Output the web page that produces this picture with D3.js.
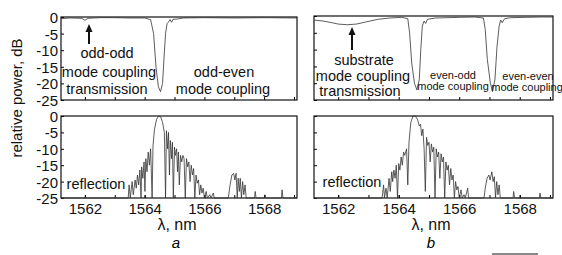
<!DOCTYPE html>
<html>
<head>
<meta charset="utf-8">
<script src="https://cdn.jsdelivr.net/npm/d3@7"></script>
<style>
  body { margin: 0; background: #fff; }
  svg { font-family: "Liberation Sans", Arial, Helvetica, sans-serif; }
  .tick text { font-size: 15px; fill: #111; }
</style>
</head>
<body>
<div id="chart"></div>
<script>
/*
 spectra: [wavelength nm, relative power dB]
 */
var xDomain = [1561.2, 1569.1];
var yDomain = [-25, 0];
var xTickLabels = [1562, 1564, 1566, 1568];
var xMinorTicks = [1562, 1563, 1564, 1565, 1566, 1567, 1568, 1569];
var yTickLabels = [0, -5, -10, -15, -20, -25];

var transmissionA = [
    [1561.2, -0.5], [1561.5, -0.3], [1561.9, -0.4], [1562.0, -1.0], [1562.1, -0.4],
    [1562.5, -0.2], [1563.0, -0.2], [1563.5, -0.3], [1564.0, -0.3], [1564.2, -0.8],
    [1564.3, -5], [1564.38, -15], [1564.46, -21], [1564.53, -22.5], [1564.6, -20],
    [1564.65, -12], [1564.7, -5], [1564.75, -2], [1564.8, -1.5], [1564.85, -0.8],
    [1564.9, -1.6], [1564.95, -0.7], [1565.1, -0.6], [1565.3, -0.3], [1566.0, -0.2],
    [1567.0, -0.3], [1568.0, -0.2], [1569.1, -0.3]
];

var transmissionB = [
    [1561.2, -1.2], [1561.5, -1.5], [1561.8, -2.0], [1562.0, -2.4], [1562.3, -2.6],
    [1562.6, -2.4], [1562.9, -1.8], [1563.3, -1.0], [1563.7, -0.6], [1564.1, -0.4],
    [1564.3, -0.8], [1564.36, -5], [1564.43, -14], [1564.52, -20], [1564.6, -22],
    [1564.68, -19], [1564.73, -10], [1564.78, -3], [1564.84, -1.5], [1564.89, -2.2],
    [1564.95, -1.0], [1565.2, -0.6], [1565.6, -0.5], [1566.0, -0.4], [1566.5, -0.3],
    [1566.8, -0.6], [1566.86, -4], [1566.93, -13], [1567.03, -20], [1567.1, -22.5],
    [1567.18, -19], [1567.25, -9], [1567.32, -3], [1567.37, -1.2], [1567.42, -2.0],
    [1567.5, -0.8], [1567.7, -0.5], [1568.2, -0.4], [1568.7, -0.3], [1569.1, -0.3]
];

var reflectionA = [
    [1561.2, -25], [1563.45, -25], [1563.48, -21], [1563.52, -25], [1563.58, -20],
    [1563.62, -24], [1563.68, -19.5], [1563.72, -22], [1563.76, -18], [1563.8, -21],
    [1563.84, -16.5], [1563.88, -25], [1563.9, -15.5], [1563.94, -19], [1563.98, -14],
    [1564.01, -23], [1564.04, -13], [1564.08, -17], [1564.12, -11], [1564.16, -15],
    [1564.2, -10], [1564.25, -25], [1564.28, -9], [1564.33, -4], [1564.4, -1],
    [1564.47, 0], [1564.54, -0.3], [1564.6, -2], [1564.66, -5], [1564.7, -25],
    [1564.73, -4.5], [1564.77, -10], [1564.8, -5], [1564.83, -18], [1564.86, -7.5],
    [1564.9, -13], [1564.93, -8], [1564.96, -25], [1565.0, -9.5], [1565.03, -12],
    [1565.07, -10], [1565.1, -17], [1565.13, -11], [1565.16, -21], [1565.2, -12],
    [1565.24, -14], [1565.28, -12], [1565.32, -13], [1565.36, -25], [1565.4, -13],
    [1565.44, -15.5], [1565.48, -14], [1565.52, -20], [1565.56, -15], [1565.6, -18],
    [1565.64, -16], [1565.68, -25], [1565.72, -18], [1565.76, -20.5], [1565.8, -19.5],
    [1565.84, -24], [1565.88, -21], [1565.92, -23.5], [1565.96, -22], [1566.0, -25],
    [1566.06, -23], [1566.1, -25], [1566.18, -24], [1566.22, -25], [1566.3, -23.5],
    [1566.33, -25], [1566.8, -25], [1566.86, -21], [1566.92, -18], [1566.98, -17.5],
    [1567.02, -19.5], [1567.06, -17.5], [1567.1, -25], [1567.13, -19], [1567.17, -23],
    [1567.2, -19], [1567.24, -25], [1567.28, -20], [1567.32, -24], [1567.36, -21],
    [1567.4, -25], [1567.68, -25], [1567.7, -23], [1567.73, -25], [1568.0, -25],
    [1568.03, -24], [1568.06, -25], [1568.58, -25], [1568.6, -22.5], [1568.63, -25],
    [1569.1, -25]
];

var reflectionB = [
    [1561.2, -25], [1563.45, -25], [1563.5, -21], [1563.53, -25], [1563.58, -22],
    [1563.62, -25], [1563.68, -19], [1563.72, -23], [1563.77, -17], [1563.8, -20],
    [1563.84, -16.5], [1563.88, -19], [1563.92, -15], [1563.96, -25], [1564.0, -14.5],
    [1564.04, -16.5], [1564.08, -12.5], [1564.12, -15], [1564.16, -11], [1564.2, -12],
    [1564.26, -10], [1564.3, -21], [1564.34, -8], [1564.4, -2], [1564.47, 0],
    [1564.55, 0], [1564.62, -1], [1564.68, -3], [1564.72, -2.5], [1564.76, -6],
    [1564.8, -4], [1564.84, -10], [1564.88, -23], [1564.92, -6.5], [1564.96, -9],
    [1565.0, -8], [1565.04, -14], [1565.08, -8.5], [1565.12, -11], [1565.16, -9.5],
    [1565.2, -25], [1565.24, -10], [1565.28, -12.5], [1565.32, -11], [1565.36, -19],
    [1565.4, -11.5], [1565.44, -14], [1565.48, -12.5], [1565.52, -25], [1565.56, -14],
    [1565.6, -16.5], [1565.64, -15], [1565.68, -21], [1565.72, -16], [1565.76, -19.5],
    [1565.8, -18], [1565.84, -25], [1565.88, -20], [1565.92, -22.5], [1565.96, -21.5],
    [1566.0, -25], [1566.06, -22.5], [1566.1, -25], [1566.16, -24], [1566.2, -25],
    [1566.28, -22], [1566.31, -25], [1566.82, -25], [1566.86, -22], [1566.92, -19],
    [1566.98, -18], [1567.02, -19.5], [1567.08, -17], [1567.12, -20], [1567.16, -18.5],
    [1567.2, -25], [1567.24, -20], [1567.28, -24], [1567.32, -21], [1567.36, -25],
    [1567.78, -25], [1567.8, -23], [1567.83, -25], [1568.65, -25], [1568.67, -23.5],
    [1568.7, -25], [1569.1, -25]
];

var width = 562, height = 255;

var svg = d3.select("#chart")
    .append("svg")
    .attr("width", width)
    .attr("height", height);

//panel boxes in pixels
var panels = [
    {data: transmissionA, x0: 61, x1: 297, y0: 17, y1: 100, yLabels: true, xLabels: false},
    {data: reflectionA, x0: 61, x1: 297, y0: 116, y1: 198, yLabels: true, xLabels: true},
    {data: transmissionB, x0: 314, x1: 553, y0: 16, y1: 100, yLabels: false, xLabels: false},
    {data: reflectionB, x0: 314, x1: 553, y0: 116, y1: 198, yLabels: false, xLabels: true}
];

panels.forEach(function (p) {
    var xScale = d3.scaleLinear().domain(xDomain).range([p.x0, p.x1]);
    var yScale = d3.scaleLinear().domain(yDomain).range([p.y1, p.y0]);

    // inner minor ticks on x
    var xMinor = d3.axisBottom(xScale).tickValues(xMinorTicks)
        .tickSizeInner(-3).tickSizeOuter(0).tickFormat("");
    svg.append("g").attr("transform", "translate(0," + p.y1 + ")").call(xMinor)
        .call(function (g) { g.select(".domain").remove(); });

    if (p.xLabels) {
        var xAxis = d3.axisBottom(xScale).tickValues(xTickLabels)
            .tickSizeInner(-3).tickSizeOuter(0).tickPadding(5)
            .tickFormat(function (d) { return String(d); });
        svg.append("g").attr("transform", "translate(0," + p.y1 + ")").call(xAxis)
            .call(function (g) { g.select(".domain").remove(); });
    }

    var yAxis = d3.axisLeft(yScale).tickValues(yTickLabels)
        .tickSizeInner(-3).tickSizeOuter(0).tickPadding(3)
        .tickFormat(p.yLabels ? function (d) { return String(d); } : "");
    svg.append("g").attr("transform", "translate(" + p.x0 + ",0)").call(yAxis)
        .call(function (g) { g.select(".domain").remove(); })
        .selectAll("text").attr("dy", "0.36em");

    // frame
    svg.append("rect")
        .attr("x", p.x0).attr("y", p.y0)
        .attr("width", p.x1 - p.x0).attr("height", p.y1 - p.y0)
        .attr("fill", "none").attr("stroke", "#111").attr("stroke-width", 1.2);

    var line = d3.line()
        .x(function (d) { return xScale(d[0]); })
        .y(function (d) { return yScale(d[1]); });

    svg.append("path")
        .datum(p.data)
        .attr("d", line)
        .attr("fill", "none")
        .attr("stroke", "#333")
        .attr("stroke-width", 0.8);
});

// annotations
function label(x, y, txt, size, anchor) {
    svg.append("text")
        .attr("x", x).attr("y", y)
        .attr("text-anchor", anchor || "middle")
        .style("font-size", size + "px")
        .attr("fill", "#111")
        .text(txt);
}

function arrow(x, yFrom, yTo) {
    svg.append("line")
        .attr("x1", x).attr("x2", x).attr("y1", yFrom).attr("y2", yTo + 6)
        .attr("stroke", "#111").attr("stroke-width", 2);
    svg.append("path")
        .attr("d", "M" + (x - 3.5) + "," + (yTo + 8) + "L" + x + "," + yTo + "L" + (x + 3.5) + "," + (yTo + 8) + "Z")
        .attr("fill", "#111");
}

arrow(89, 44, 24);
label(107, 58, "odd-odd", 14.5);
label(109, 77, "mode coupling", 14.5);
label(107, 94, "transmission", 14.5);
label(224, 77, "odd-even", 14.5);
label(223, 94, "mode coupling", 14.5);
label(96, 189, "reflection", 14.5);

arrow(352, 50, 27);
label(364, 65, "substrate", 14.5);
label(363, 81, "mode coupling", 14.5);
label(360, 96, "transmission", 14.5);
label(453, 79, "even-odd", 11);
label(453, 90, "mode coupling", 11);
label(528, 80, "even-even", 11);
label(527, 91, "mode coupling", 11);
label(352, 187, "reflection", 14.5);

// axis titles
label(177, 230, "\u03bb, nm", 16);
label(431, 230, "\u03bb, nm", 16);
svg.append("text")
    .attr("transform", "translate(22,98) rotate(-90)")
    .attr("text-anchor", "middle")
    .style("font-size", "15px")
    .attr("fill", "#111")
    .text("relative power, dB");

svg.append("text").attr("x", 176).attr("y", 248).attr("text-anchor", "middle")
    .style("font-size", "15px").style("font-style", "italic").text("a");
svg.append("text").attr("x", 431).attr("y", 248).attr("text-anchor", "middle")
    .style("font-size", "15px").style("font-style", "italic").text("b");

svg.append("line").attr("x1", 492).attr("x2", 538).attr("y1", 254).attr("y2", 254)
    .attr("stroke", "#111").attr("stroke-width", 1);
</script>
</body>
</html>
